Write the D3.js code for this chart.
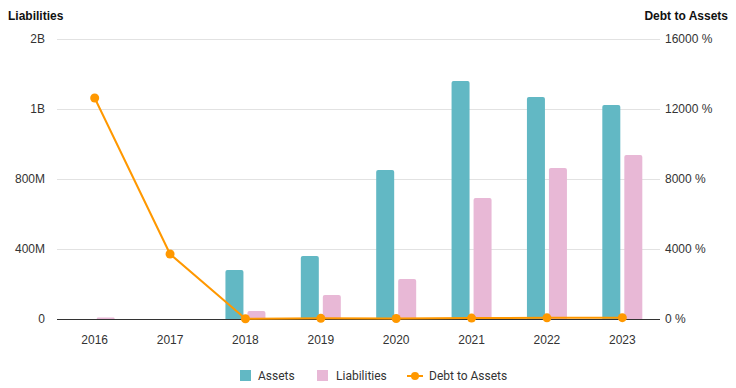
<!DOCTYPE html>
<html lang="en">
<head>
<meta charset="UTF-8">
<title>Liabilities</title>
<style>
  body { margin: 0; background: #fff; }
  svg { font-family: "Liberation Sans", Arial, sans-serif; }
  .legend text { font-family: Roboto, "Noto Sans", sans-serif; }
</style>
</head>
<body>
<svg width="736" height="388"></svg>
<script src="https://d3js.org/d3.v7.min.js"></script>
<script>
var years = ["2016", "2017", "2018", "2019", "2020", "2021", "2022", "2023"];
var assets = [0, 0, 280e6, 360e6, 851e6, 1360e6, 1269e6, 1223e6];
var liabilities = [8e6, 0, 46e6, 137e6, 229e6, 691e6, 863e6, 937e6];
var debtToAssets = [12630, 3714, 16, 38, 27, 51, 68, 77];
var leftTicks = [0, 400e6, 800e6, 1200e6, 1600e6];
var leftTickLabels = ["0", "400M", "800M", "1B", "2B"];
var rightTicks = [0, 4000, 8000, 12000, 16000];

var svg = d3.select("svg");
var plotLeft = 57, plotRight = 660, plotTop = 39, plotBottom = 319;

var x = d3.scaleBand().domain(years).range([plotLeft, plotRight]);
var yL = d3.scaleLinear().domain([0, 1600e6]).range([plotBottom, plotTop]);
var yR = d3.scaleLinear().domain([0, 16000]).range([plotBottom, plotTop]);

var teal = "#62b8c4", pink = "#e8b8d6", orange = "#ff9800";

// grid
svg.append("g").selectAll("line")
    .data(leftTicks.slice(1)).enter().append("line")
    .attr("x1", plotLeft).attr("x2", plotRight)
    .attr("y1", d => yL(d) + 0.5).attr("y2", d => yL(d) + 0.5)
    .attr("stroke", "#e2e2e2").attr("stroke-width", 1);

// left tick labels
svg.append("g").selectAll("text")
    .data(leftTicks).enter().append("text")
    .attr("x", 45).attr("y", d => yL(d) + 4)
    .attr("text-anchor", "end")
    .attr("font-size", 12).attr("fill", "#333")
    .text((d, i) => leftTickLabels[i]);

// right tick labels
svg.append("g").selectAll("text")
    .data(rightTicks).enter().append("text")
    .attr("x", 665).attr("y", d => yR(d) + 4)
    .attr("font-size", 12).attr("fill", "#333")
    .text(d => d + " %");

// axis titles
svg.append("text").attr("x", 8).attr("y", 20)
    .attr("font-size", 12).attr("font-weight", "bold").attr("fill", "#111")
    .text("Liabilities");
svg.append("text").attr("x", 728).attr("y", 20)
    .attr("text-anchor", "end")
    .attr("font-size", 12).attr("font-weight", "bold").attr("fill", "#111")
    .text("Debt to Assets");

function barPath(x0, w, y0, y1) {
    var h = y1 - y0;
    if (h <= 0) return "";
    var r = Math.min(2, h);
    return "M" + x0 + "," + y1 + "V" + (y0 + r) +
        "Q" + x0 + "," + y0 + " " + (x0 + r) + "," + y0 +
        "H" + (x0 + w - r) +
        "Q" + (x0 + w) + "," + y0 + " " + (x0 + w) + "," + (y0 + r) +
        "V" + y1 + "Z";
}

var bw = 18, gap = 2;

svg.append("g").selectAll("path")
    .data(assets).enter().append("path")
    .attr("fill", teal)
    .attr("d", (d, i) => barPath(x(years[i]) + x.bandwidth() / 2 - gap - bw, bw, yL(d), yL(0)));

svg.append("g").selectAll("path")
    .data(liabilities).enter().append("path")
    .attr("fill", pink)
    .attr("d", (d, i) => barPath(x(years[i]) + x.bandwidth() / 2 + gap, bw, yL(d), yL(0)));

// baseline
svg.append("line")
    .attr("x1", plotLeft).attr("x2", plotRight)
    .attr("y1", plotBottom + 0.5).attr("y2", plotBottom + 0.5)
    .attr("stroke", "#333").attr("stroke-width", 1);

// x labels
svg.append("g").selectAll("text")
    .data(years).enter().append("text")
    .attr("x", d => x(d) + x.bandwidth() / 2).attr("y", 344)
    .attr("text-anchor", "middle")
    .attr("font-size", 12).attr("fill", "#333")
    .text(d => d);

// line
var line = d3.line()
    .x((d, i) => x(years[i]) + x.bandwidth() / 2)
    .y(d => yR(d));

svg.append("path")
    .datum(debtToAssets)
    .attr("d", line)
    .attr("fill", "none").attr("stroke", orange).attr("stroke-width", 2);

svg.append("g").selectAll("circle")
    .data(debtToAssets).enter().append("circle")
    .attr("cx", (d, i) => x(years[i]) + x.bandwidth() / 2)
    .attr("cy", d => yR(d))
    .attr("r", 4.5).attr("fill", orange);

// legend
var legend = svg.append("g").attr("class", "legend").attr("transform", "translate(0,376)");
legend.append("rect").attr("x", 240).attr("y", -6).attr("width", 11).attr("height", 11).attr("fill", teal);
legend.append("text").attr("x", 258).attr("y", 4).attr("font-size", 12).attr("fill", "#333").text("Assets");
legend.append("rect").attr("x", 317).attr("y", -6).attr("width", 11).attr("height", 11).attr("fill", pink);
legend.append("text").attr("x", 336).attr("y", 4).attr("font-size", 12).attr("fill", "#333").text("Liabilities");
legend.append("line").attr("x1", 407).attr("x2", 423).attr("y1", 0).attr("y2", 0)
    .attr("stroke", orange).attr("stroke-width", 2);
legend.append("circle").attr("cx", 415).attr("cy", 0).attr("r", 4).attr("fill", orange);
legend.append("text").attr("x", 429).attr("y", 4).attr("font-size", 12).attr("fill", "#333").text("Debt to Assets");
</script>
</body>
</html>
